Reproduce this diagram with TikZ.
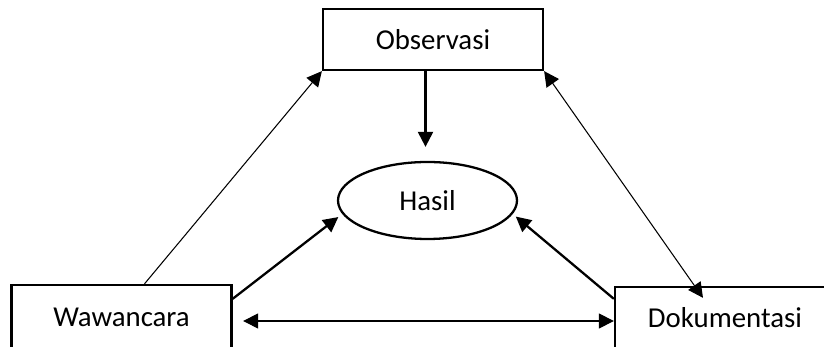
\documentclass[tikz,border=0pt]{standalone}
\usepackage{fontspec}
\setmainfont{Carlito}
\usetikzlibrary{arrows.meta,shapes,positioning}

\tikzset{
  kotak/.style={draw, line width=1.3pt, minimum width=4.4cm, minimum height=1.24cm, font=\fontsize{16.4}{20}\selectfont},
  tipis/.style={line width=0.6pt, -{Triangle[length=0.3cm,width=0.3cm]}},
  tipisdua/.style={line width=0.6pt, {Triangle[length=0.3cm,width=0.3cm]}-{Triangle[length=0.3cm,width=0.3cm]}},
  tebal/.style={line width=1.3pt, -{Triangle[length=0.3cm,width=0.3cm]}}
}

\begin{document}
\begin{tikzpicture}
            \useasboundingbox (0,0) rectangle (16.48,-6.94);

            % Sources
            \node[kotak, minimum height=1.22cm] (observasi) at (8.66,-0.79) {Observasi};
            \node[kotak, minimum height=1.28cm] (wawancara) at (2.43,-6.34) {Wawancara};
            \node[kotak] (dokumentasi) at (14.5,-6.36) {Dokumentasi};

            % Result
            \node[draw, ellipse, line width=1.3pt, minimum width=3.58cm, minimum height=1.54cm, inner sep=0pt, font=\fontsize{16.4}{20}\selectfont] (hasil) at (8.55,-4.01) {Hasil};

            % Thin links between sources
            \draw[tipis] ([xshift=0.46cm]wawancara.north) -- (observasi.south west);
            \draw[tipisdua] (observasi.south east) -- ([xshift=-0.44cm,yshift=-0.24cm]dokumentasi.north);
            \draw[tipisdua] ([xshift=0.21cm,yshift=-0.08cm]wawancara.east) -- ([yshift=-0.06cm]dokumentasi.west);

            % Thick links to result
            \draw[tebal, shorten >=0.28cm] ([xshift=-0.04cm]hasil.north |- observasi.south) -- ([xshift=-0.04cm]hasil.north);
            \draw[tebal, shorten >=0.1cm] ([yshift=-0.3cm]wawancara.north east) -- (hasil.189);
            \draw[tebal, shorten >=0.08cm] ([yshift=-0.26cm]dokumentasi.north west) -- (hasil.351);
        \end{tikzpicture}
\end{document}
